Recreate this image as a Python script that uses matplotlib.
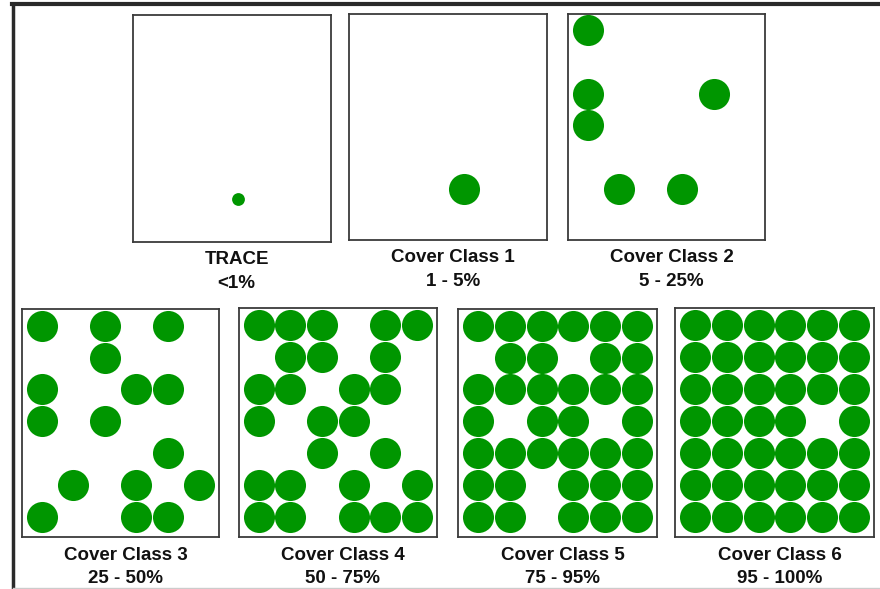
import numpy as np
import matplotlib
matplotlib.use('Agg')
import matplotlib.pyplot as plt
from matplotlib.lines import Line2D

# cover class patterns, 7 rows x 6 columns, 'X' = plant present
labels = ['TRACE', 'Cover Class 1', 'Cover Class 2', 'Cover Class 3',
          'Cover Class 4', 'Cover Class 5', 'Cover Class 6']
ranges = ['<1%', '1 - 5%', '5 - 25%', '25 - 50%', '50 - 75%', '75 - 95%', '95 - 100%']

trace_cols = [2.7]
trace_rows = [5.27]

cc1 = ["......", "......", "......", "......", "......", "...X..", "......"]
cc2 = ["X.....", "......", "X...X.", "X.....", "......", ".X.X..", "......"]
cc3 = ["X.X.X.", "..X...", "X..XX.", "X.X...", "....X.", ".X.X.X", "X..XX."]
cc4 = ["XXX.XX", ".XX.X.", "XX.XX.", "X.XX..", "..X.X.", "XX.X.X", "XX.XXX"]
cc5 = ["XXXXXX", ".XX.XX", "XXXXXX", "X.XX.X", "XXXXXX", "XX.XXX", "XX.XXX"]
cc6 = ["XXXXXX", "XXXXXX", "XXXXXX", "XXXX.X", "XXXXXX", "XXXXXX", "XXXXXX"]
patterns = [None, cc1, cc2, cc3, cc4, cc5, cc6]

# panel boxes in pixels: left, right, top, bottom
boxes = [(132.7, 330.7, 15.0, 241.7),
         (349.3, 547.3, 14.3, 240.0),
         (568.3, 765.0, 14.0, 240.0),
         (22.3, 219.0, 309.0, 537.0),
         (239.0, 436.7, 308.3, 537.0),
         (458.3, 656.7, 309.0, 537.0),
         (675.0, 874.0, 308.3, 537.0)]

W, H = 880, 589
GREEN = '#009600'

fig = plt.figure(figsize=(W / 100, H / 100), dpi=100)
fig.patch.set_facecolor('white')


def cells(pattern):
    cols, rows = [], []
    for r, line in enumerate(pattern):
        for c, ch in enumerate(line):
            if ch == 'X':
                cols.append(c)
                rows.append(r)
    return cols, rows


for i, (x0, x1, y0, y1) in enumerate(boxes):
    ax = fig.add_axes([x0 / W, 1 - y1 / H, (x1 - x0) / W, (y1 - y0) / H])
    ax.set_xlim(-0.625, 5.625)
    ax.set_ylim(6.62, -0.52)
    ax.set_xticks([])
    ax.set_yticks([])
    for sp in ax.spines.values():
        sp.set_color('#3a3a3a')
        sp.set_linewidth(1.3)
    if patterns[i] is None:
        ax.scatter(trace_cols, trace_rows, s=85, color=GREEN, linewidths=0)
    else:
        cols, rows = cells(patterns[i])
        ax.scatter(cols, rows, s=500, color=GREEN, linewidths=0)

    cx = (x0 + x1) / 2 + 5
    ty = y1 + 18
    fig.text(cx / W, 1 - ty / H, labels[i], ha='center', va='center',
             fontsize=13.5, fontweight='bold', family='Liberation Sans', color='#111111')
    fig.text(cx / W, 1 - (ty + 23.5) / H, ranges[i], ha='center', va='center',
             fontsize=13.5, fontweight='bold', family='Liberation Sans', color='#111111')

# outer frame (left and top edges)
fig.add_artist(Line2D([13 / W, 13 / W], [0, 1 - 4 / H], color='#2a2a2a', linewidth=2.5))
fig.add_artist(Line2D([12 / W, 1], [1 - 4 / H, 1 - 4 / H], color='#2a2a2a', linewidth=3))
fig.add_artist(Line2D([13 / W, 1], [1 / H, 1 / H], color='#cccccc', linewidth=1))

fig.savefig('out.png', dpi=100, facecolor='white')
